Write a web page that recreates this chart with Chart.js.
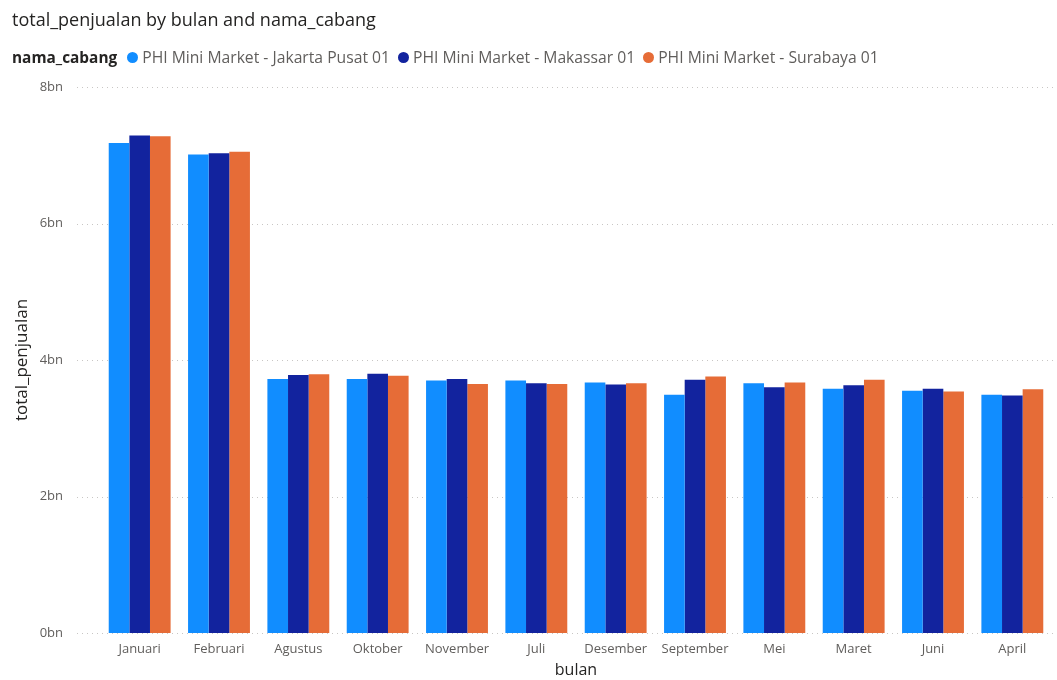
<!DOCTYPE html>
<html>
<head>
<meta charset="utf-8">
<script src="https://cdn.jsdelivr.net/npm/chart.js@4"></script>
<style>
  html,body{margin:0;padding:0;background:#fff;}
  #wrap{position:relative;width:1057px;height:680px;font-family:'Segoe UI','Open Sans',sans-serif;}
  #chart{position:absolute;left:0;top:0;}
  #title{position:absolute;left:12px;top:7px;font-size:18px;color:#252423;white-space:nowrap;}
  #legend{position:absolute;left:12px;top:46px;font-size:15.7px;color:#605e5c;white-space:nowrap;display:flex;align-items:center;}
  #legend b{color:#252423;font-weight:700;font-size:15.4px;margin-right:10px;}
  .item{display:flex;align-items:center;margin-right:8px;}
  .dot{width:11px;height:11px;border-radius:50%;display:inline-block;margin-right:4px;}
</style>
</head>
<body>
<div id="wrap">
  <canvas id="chart" width="1057" height="680"></canvas>
  <div id="title">total_penjualan by bulan and nama_cabang</div>
  <div id="legend"><b>nama_cabang</b></div>
</div>
<script>
// Data (values in bn)
const months = ['Januari','Februari','Agustus','Oktober','November','Juli','Desember','September','Mei','Maret','Juni','April'];
const branches = ['PHI Mini Market - Jakarta Pusat 01','PHI Mini Market - Makassar 01','PHI Mini Market - Surabaya 01'];
const colors = ['#118DFF','#12239E','#E66C37'];
const jakarta  = [7.18, 7.01, 3.72, 3.72, 3.70, 3.70, 3.67, 3.49, 3.66, 3.58, 3.55, 3.49];
const makassar = [7.29, 7.03, 3.78, 3.80, 3.72, 3.66, 3.64, 3.71, 3.60, 3.63, 3.58, 3.48];
const surabaya = [7.28, 7.05, 3.79, 3.77, 3.65, 3.65, 3.66, 3.76, 3.67, 3.71, 3.54, 3.57];
const yTicks = [0, 2, 4, 6, 8];

const series = [jakarta, makassar, surabaya];

// Legend
const lg = document.getElementById('legend');
branches.forEach((b,i)=>{
  const it = document.createElement('span');
  it.className = 'item';
  it.innerHTML = `<span class="dot" style="background:${colors[i]}"></span>${b}`;
  lg.appendChild(it);
});

// dotted gridlines that run a bit left of the plot area
const dotGrid = {
  id:'dotGrid',
  beforeDatasetsDraw(chart){
    const {ctx, chartArea, scales:{y}} = chart;
    ctx.save();
    ctx.strokeStyle = '#c8c6c4';
    ctx.lineWidth = 1;
    ctx.setLineDash([1,4]);
    yTicks.forEach(v=>{
      const py = Math.round(y.getPixelForValue(v)) + 0.5;
      ctx.beginPath();
      ctx.moveTo(77, py);
      ctx.lineTo(chartArea.right + 3, py);
      ctx.stroke();
    });
    ctx.restore();
  }
};

const font = "'Segoe UI','Open Sans',sans-serif";
new Chart(document.getElementById('chart'), {
  type:'bar',
  data:{
    labels: months,
    datasets: series.map((d,i)=>({
      label: branches[i],
      data: d,
      backgroundColor: colors[i],
      borderWidth: 0,
      barPercentage: 1,
      categoryPercentage: 0.78
    }))
  },
  options:{
    responsive:false,
    animation:false,
    layout:{padding:{top:87, right:5, left:0, bottom:0}},
    plugins:{legend:{display:false}, tooltip:{enabled:false}},
    scales:{
      x:{
        grid:{display:false, drawTicks:false},
        border:{display:false},
        ticks:{color:'#605e5c', font:{family:font, size:13}, padding:8, maxRotation:0, autoSkip:false},
        title:{display:true, text:'bulan', color:'#252423', font:{family:font, size:16}, padding:{top:0,bottom:0}},
        afterFit(s){ s.height = 47; }
      },
      y:{
        min:0, max:8,
        afterBuildTicks(s){ s.ticks = yTicks.map(v=>({value:v})); },
        grid:{display:false, drawTicks:false},
        border:{display:false},
        ticks:{color:'#605e5c', font:{family:font, size:13}, padding:37, callback:v=>v+'bn'},
        title:{display:true, text:'total_penjualan', color:'#252423', font:{family:font, size:17}, padding:{top:12,bottom:0}},
        afterFit(s){ s.width = 100; }
      }
    }
  },
  plugins:[dotGrid]
});
</script>
</body>
</html>
